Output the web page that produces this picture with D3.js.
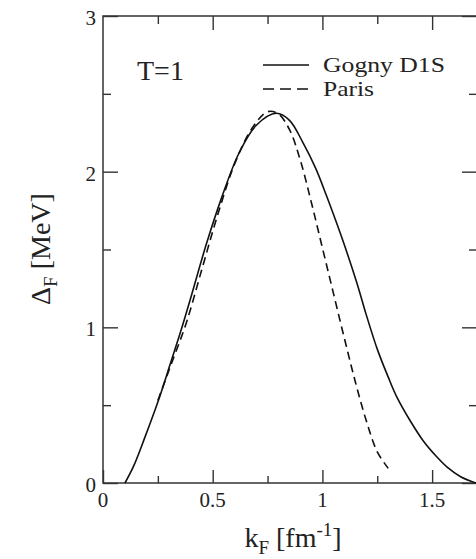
<!DOCTYPE html>
<html>
<head>
<meta charset="utf-8">
<script src="https://cdn.jsdelivr.net/npm/d3@7"></script>
<style>
  html, body { margin: 0; padding: 0; background: #fff; }
  svg { display: block; }
  text { font-family: "Liberation Serif", "Times New Roman", Times, serif; fill: #222; }
</style>
</head>
<body>
<svg id="chart" width="476" height="559"></svg>
<script>
// data: k_F [fm^-1] vs Delta_F [MeV]
const gognyK     = [0.10, 0.14, 0.19, 0.25, 0.31, 0.36, 0.40, 0.47, 0.54, 0.62, 0.70, 0.79, 0.85, 0.91, 0.97, 1.02, 1.09, 1.156, 1.20, 1.25, 1.30, 1.34, 1.40, 1.46, 1.52, 1.57, 1.63, 1.70];
const gognyDelta = [0.00, 0.11, 0.29, 0.52, 0.78, 1.00, 1.19, 1.53, 1.83, 2.12, 2.30, 2.375, 2.33, 2.19, 2.02, 1.84, 1.57, 1.29, 1.08, 0.86, 0.68, 0.55, 0.40, 0.27, 0.17, 0.10, 0.04, 0.00];

const parisK     = [0.25, 0.31, 0.38, 0.45, 0.52, 0.60, 0.68, 0.75, 0.80, 0.85, 0.90, 0.95, 1.00, 1.05, 1.10, 1.15, 1.20, 1.25, 1.30];
const parisDelta = [0.53, 0.76, 1.03, 1.37, 1.71, 2.05, 2.28, 2.385, 2.37, 2.27, 2.07, 1.80, 1.51, 1.22, 0.93, 0.65, 0.40, 0.20, 0.094];

const xMajor = [0, 0.5, 1, 1.5];
const xMinor = [0.25, 0.75, 1.25];
const yMajor = [0, 1, 2, 3];
const yMinor = [0.5, 1.5, 2.5];
const xTickLabels = ["0", "0.5", "1", "1.5"];
const yTickLabels = ["0", "1", "2", "3"];
const legendLabels = ["Gogny D1S", "Paris"];

var svg = d3.select("#chart");
var mLeft = 103, mRight = 477, mTop = 16, mBottom = 483;

var x = d3.scaleLinear().domain([0, 1.7]).range([mLeft, mRight - 1]);
var y = d3.scaleLinear().domain([0, 3]).range([mBottom, mTop]);

var ink = "#333";

// inward ticks on all four sides
function ticks(axis, vals, size, transform) {
    var g = svg.append("g")
        .attr("transform", transform)
        .call(axis.tickValues(vals).tickSize(size).tickFormat(""));
    g.select(".domain").remove();
    g.selectAll("line").attr("stroke", ink).attr("stroke-width", 1.4);
    return g;
}
ticks(d3.axisBottom(x), xMajor, -13, "translate(0," + mBottom + ")");
ticks(d3.axisBottom(x), xMinor, -7, "translate(0," + mBottom + ")");
ticks(d3.axisTop(x), xMajor.filter(d => d > 0), -14, "translate(0," + mTop + ")");
ticks(d3.axisTop(x), xMinor, -8, "translate(0," + mTop + ")");
ticks(d3.axisLeft(y), yMajor, -15, "translate(" + mLeft + ",0)");
ticks(d3.axisLeft(y), yMinor, -8, "translate(" + mLeft + ",0)");
ticks(d3.axisRight(y), yMajor, -15, "translate(" + mRight + ",0)");
ticks(d3.axisRight(y), yMinor, -8, "translate(" + mRight + ",0)");

// frame
svg.append("rect")
    .attr("x", mLeft).attr("y", mTop)
    .attr("width", mRight - mLeft).attr("height", mBottom - mTop)
    .attr("fill", "none").attr("stroke", ink).attr("stroke-width", 1.5);

// tick labels
svg.append("g").selectAll("text").data(xMajor).enter()
    .append("text")
    .attr("x", d => x(d))
    .attr("y", mBottom + 24)
    .attr("text-anchor", "middle")
    .style("font-size", "21px")
    .text((d, i) => xTickLabels[i]);

svg.append("g").selectAll("text").data(yMajor).enter()
    .append("text")
    .attr("x", 96)
    .attr("y", d => y(d) + 9)
    .attr("text-anchor", "end")
    .style("font-size", "21px")
    .text((d, i) => yTickLabels[i]);

// axis titles
var xt = svg.append("text")
    .attr("x", 293).attr("y", 547)
    .attr("text-anchor", "middle")
    .style("font-size", "28px");
xt.append("tspan").text("k");
xt.append("tspan").attr("dy", 7).style("font-size", "19px").text("F");
xt.append("tspan").attr("dy", -7).text(" [fm");
xt.append("tspan").attr("dy", -11).style("font-size", "19px").text("-1");
xt.append("tspan").attr("dy", 11).text("]");

var yt = svg.append("text")
    .attr("transform", "translate(50,249)rotate(-90)")
    .attr("text-anchor", "middle")
    .style("font-size", "28px");
yt.append("tspan").text("\u0394");
yt.append("tspan").attr("dy", 7).style("font-size", "19px").text("F");
yt.append("tspan").attr("dy", -7).text(" [MeV]");

// T=1 label
svg.append("text")
    .attr("x", 137).attr("y", 80)
    .style("font-size", "28px")
    .text("T=1");

// curves
var line = d3.line()
    .x(d => x(d[0]))
    .y(d => y(d[1]))
    .curve(d3.curveCatmullRom.alpha(0.5));

svg.append("path")
    .datum(gognyK.map((k, i) => [k, gognyDelta[i]]))
    .attr("d", line)
    .attr("fill", "none")
    .attr("stroke", "#111")
    .attr("stroke-width", 1.6);

svg.append("path")
    .datum(parisK.map((k, i) => [k, parisDelta[i]]))
    .attr("d", line)
    .attr("fill", "none")
    .attr("stroke", "#111")
    .attr("stroke-width", 1.6)
    .attr("stroke-dasharray", "8,5");

// legend
var legend = [
    {label: legendLabels[0], dash: null, y: 65, len: 122},
    {label: legendLabels[1], dash: "11,6", y: 89, len: 51}
];
legend.forEach(function (d) {
    svg.append("line")
        .attr("x1", 263).attr("x2", 309)
        .attr("y1", d.y).attr("y2", d.y)
        .attr("stroke", "#111")
        .attr("stroke-width", 1.5)
        .attr("stroke-dasharray", d.dash);
    svg.append("text")
        .attr("x", 323).attr("y", d.y + 7)
        .attr("textLength", d.len)
        .attr("lengthAdjust", "spacingAndGlyphs")
        .style("font-size", "22px")
        .text(d.label);
});
</script>
</body>
</html>
